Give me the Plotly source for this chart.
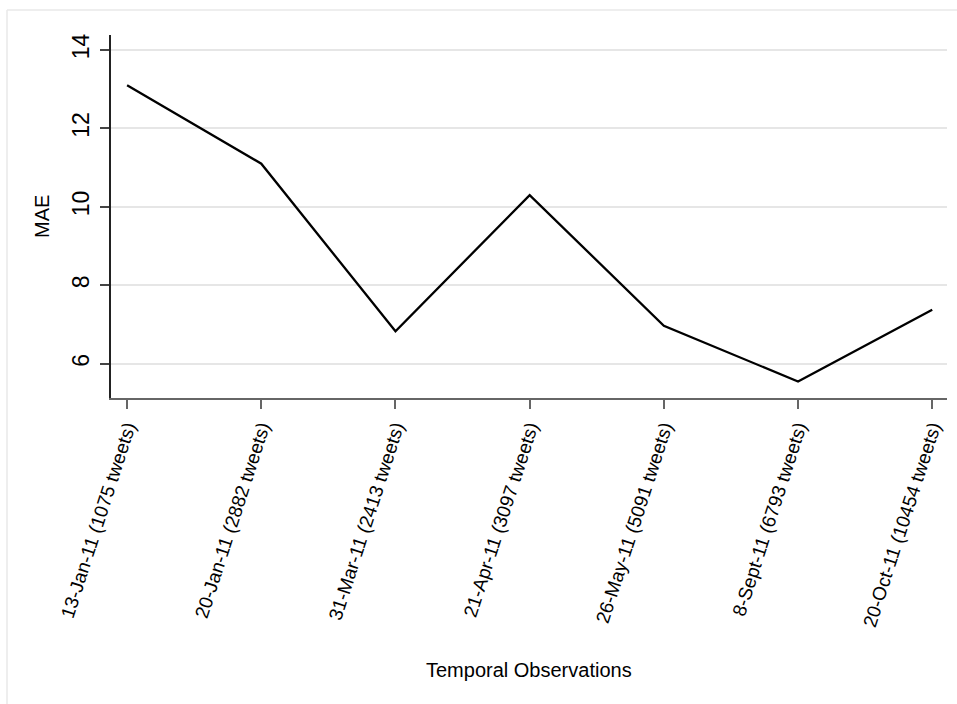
import plotly.graph_objects as go

categories = [
    "13-Jan-11 (1075 tweets)",
    "20-Jan-11 (2882 tweets)",
    "31-Mar-11 (2413 tweets)",
    "21-Apr-11 (3097 tweets)",
    "26-May-11 (5091 tweets)",
    "8-Sept-11 (6793 tweets)",
    "20-Oct-11 (10454 tweets)",
]
mae = [13.1, 11.1, 6.83, 10.3, 6.97, 5.55, 7.38]
y_ticks = [6, 8, 10, 12, 14]

W, H = 957, 704
L, R, T, B = 111, 10, 35, 306
pw, ph = W - L - R, H - T - B

FONT = "Liberation Sans, Arial, sans-serif"

fig = go.Figure()
fig.add_trace(go.Scatter(
    x=categories, y=mae, mode="lines",
    line=dict(color="black", width=2.3),
    showlegend=False,
))

fig.update_layout(
    width=W, height=H,
    margin=dict(l=L, r=R, t=T, b=B, autoexpand=False),
    paper_bgcolor="white", plot_bgcolor="white",
    font=dict(family=FONT, color="black"),
    xaxis=dict(
        type="category", range=[-0.12, 6.11], automargin=False,
        showline=True, linecolor="#666666", linewidth=1.5,
        ticks="outside", ticklen=9, tickcolor="#666666", tickwidth=1.5,
        tickangle=-72, tickfont=dict(size=19, family=FONT),
        showgrid=False, zeroline=False,
    ),
    yaxis=dict(
        range=[5.13, 14.38], automargin=False,
        tickvals=y_ticks, ticktext=[str(v) for v in y_ticks],
        showline=True, linecolor="#222222", linewidth=1.5,
        ticks="outside", ticklen=9, tickcolor="#444444", tickwidth=1.5,
        tickangle=-90, tickfont=dict(size=23, family=FONT),
        ticklabelstandoff=2,
        showgrid=True, gridcolor="#e6e6e6", gridwidth=1.5,
        zeroline=False,
    ),
    annotations=[
        dict(text="Temporal Observations", xref="paper", yref="paper",
             x=0.5, y=-(670 - T - ph) / ph, xanchor="center", yanchor="middle",
             showarrow=False, font=dict(size=20, family=FONT, color="black")),
        dict(text="MAE", xref="paper", yref="paper",
             x=(42 - L) / pw, y=1 - (217 - T) / ph, xanchor="center", yanchor="middle",
             textangle=-90, showarrow=False,
             font=dict(size=20, family=FONT, color="black")),
    ],
)

# outer graph-region frame (top and left edges visible)
x0 = (7 - L) / pw
y1 = 1 + (T - 10) / ph
fig.add_shape(type="line", xref="paper", yref="paper",
              x0=x0, x1=1 + (R + 5) / pw, y0=y1, y1=y1,
              line=dict(color="#e8e8e8", width=1.5))
fig.add_shape(type="line", xref="paper", yref="paper",
              x0=x0, x1=x0, y0=y1, y1=-(B + 5) / ph,
              line=dict(color="#e8e8e8", width=1.5))

fig.write_html(
    "out.html",
    config={"displayModeBar": False},
    post_script="document.body.style.margin='0';document.body.style.padding='0';",
)
